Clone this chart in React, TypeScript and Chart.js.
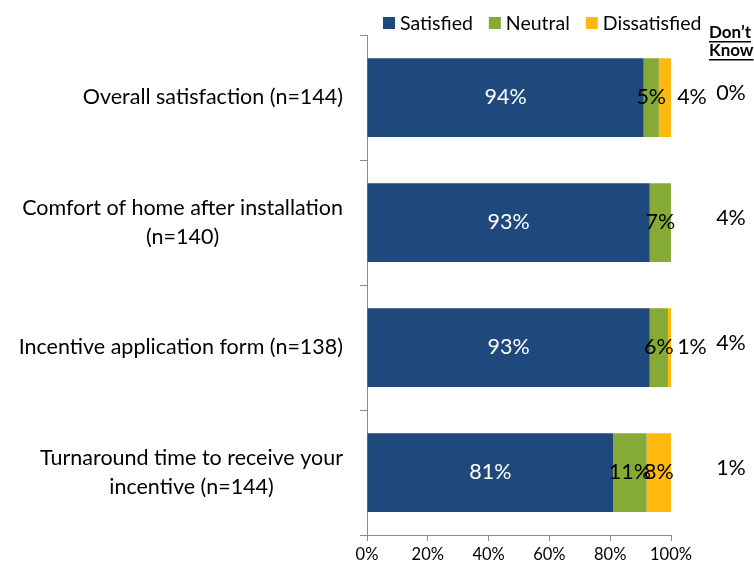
import React, { useEffect, useRef } from 'react';
import { Chart, registerables } from 'chart.js';

Chart.register(...registerables);

const categories: string[][] = [
  ['Overall satisfaction (n=144)'],
  ['Comfort of home after installation', '(n=140)'],
  ['Incentive application form (n=138)'],
  ['Turnaround time to receive your', 'incentive (n=144)'],
];
const seriesNames = ['Satisfied', 'Neutral', 'Dissatisfied'];
const satisfied = [91, 93, 93, 81];
const neutral = [5, 7, 6, 11];
const dissatisfied = [4, 0, 1, 8];
const satisfiedLabels = ['94%', '93%', '93%', '81%'];
const neutralLabels = ['5%', '7%', '6%', '11%'];
const dissatisfiedLabels = ['4%', '', '1%', '8%'];
const dontKnowLabels = ['0%', '4%', '4%', '1%'];
const dontKnowHeader = ["Don\u2019t", 'Know'];

const FONT = 'Lato, "Open Sans", sans-serif';
const COLORS = ['#1F497D', '#86AA36', '#FFB90F'];
const AXIS = '#8C8C8C';

const overlayPlugin = {
  id: 'overlay',
  afterDraw(chart: any) {
    const ctx: CanvasRenderingContext2D = chart.ctx;
    const area = chart.chartArea;
    ctx.save();

    // Legend
    ctx.font = `19.5px ${FONT}`;
    ctx.textBaseline = 'middle';
    ctx.textAlign = 'left';
    let lx = 383;
    const ly = 23;
    seriesNames.forEach((name, i) => {
      ctx.fillStyle = COLORS[i];
      ctx.fillRect(lx, ly - 6, 12, 12);
      ctx.fillStyle = '#000';
      ctx.fillText(name, lx + 17, ly + 1);
      lx += 17 + ctx.measureText(name).width + 16;
    });

    // Category labels
    const meta0 = chart.getDatasetMeta(0);
    ctx.font = `21.5px ${FONT}`;
    ctx.fillStyle = '#000';
    ctx.textAlign = 'center';
    const rightEdge = area.left - 24;
    categories.forEach((lines, j) => {
      const bar = meta0.data[j];
      const maxW = Math.max(...lines.map((l) => ctx.measureText(l).width));
      const cx = rightEdge - maxW / 2;
      lines.forEach((line, k) => {
        const y = bar.y + (k - (lines.length - 1) / 2) * 29;
        ctx.fillText(line, cx, y);
      });
    });

    // Value labels
    const labelSets = [satisfiedLabels, neutralLabels, dissatisfiedLabels];
    ctx.font = `21.5px ${FONT}`;
    labelSets.forEach((labels, i) => {
      const meta = chart.getDatasetMeta(i);
      labels.forEach((txt, j) => {
        if (!txt) return;
        const el = meta.data[j];
        const x0 = Math.min(el.base, el.x);
        const x1 = Math.max(el.base, el.x);
        let cx = (x0 + x1) / 2;
        if (i === 2 && x1 - x0 < 15) cx = x1 + 21;
        ctx.fillStyle = i === 0 ? '#FFFFFF' : '#000';
        ctx.fillText(txt, cx, el.y);
      });
    });

    // Don't know column
    ctx.textAlign = 'left';
    ctx.fillStyle = '#000';
    ctx.font = `bold 17px ${FONT}`;
    dontKnowHeader.forEach((t, k) => {
      const y = 33 + k * 18;
      ctx.fillText(t, 709, y);
      const w = ctx.measureText(t).width;
      ctx.fillRect(709, y + 8, w, 1.5);
    });
    ctx.font = `21.5px ${FONT}`;
    ctx.textAlign = 'center';
    dontKnowLabels.forEach((t, j) => {
      const bar = meta0.data[j];
      ctx.fillText(t, 731, bar.y - 4);
    });

    ctx.restore();
  },
};

export default function App() {
  const ref = useRef<HTMLCanvasElement | null>(null);
  useEffect(() => {
    if (!ref.current) return;
    const chart = new Chart(ref.current, {
      type: 'bar',
      data: {
        labels: categories.map((c) => c.join(' ')),
        datasets: [
          { label: seriesNames[0], data: satisfied, backgroundColor: COLORS[0] },
          { label: seriesNames[1], data: neutral, backgroundColor: COLORS[1] },
          { label: seriesNames[2], data: dissatisfied, backgroundColor: COLORS[2] },
        ].map((d) => ({ ...d, barPercentage: 0.63, categoryPercentage: 1, borderWidth: 0 })),
      },
      options: {
        indexAxis: 'y',
        responsive: false,
        animation: false,
        layout: { padding: { left: 0, right: 83, top: 35, bottom: 0 } },
        plugins: {
          legend: { display: false },
          tooltip: { enabled: false },
        },
        scales: {
          x: {
            stacked: true,
            min: 0,
            max: 100,
            ticks: {
              stepSize: 20,
              callback: (v: any) => `${v}%`,
              font: { family: FONT, size: 16.5 },
              color: '#000',
              padding: 4,
            },
            grid: { display: true, drawOnChartArea: false, tickLength: 6, color: AXIS },
            border: { display: true, color: AXIS },
            afterFit: (s: any) => {
              s.height = 31;
            },
          },
          y: {
            stacked: true,
            ticks: { display: false },
            grid: { display: true, drawOnChartArea: false, offset: true, tickLength: 7, color: AXIS },
            border: { display: true, color: AXIS },
            afterFit: (s: any) => {
              s.width = 367;
            },
          },
        },
      },
      plugins: [overlayPlugin],
    } as any);
    return () => chart.destroy();
  }, []);

  return (
    <div style={{ position: 'absolute', left: 0, top: 0, width: 754, height: 566, overflow: 'hidden', background: '#fff' }}>
      <canvas ref={ref} width={754} height={566} style={{ display: 'block' }} />
    </div>
  );
}
